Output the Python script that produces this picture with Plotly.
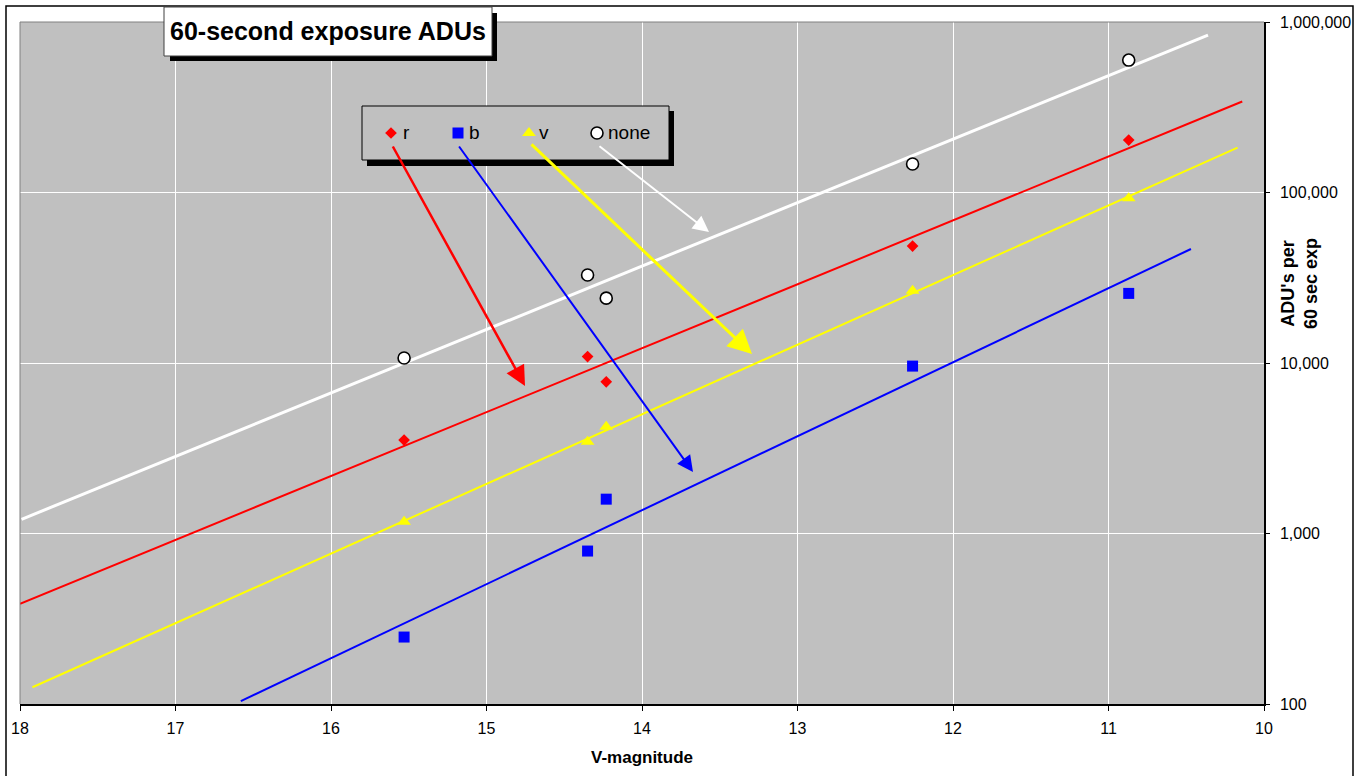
import numpy as np
import plotly.graph_objects as go

# --- measurements: V magnitude of each comparison star and ADUs per 60 s exposure ---
v_mag = [15.53, 14.35, 14.23, 12.26, 10.87]
adu_r = [3530, 10900, 7760, 48500, 203000]
adu_b = [247, 789, 1590, 9590, 25600]
adu_v = [1170, 3450, 4230, 26500, 92500]
adu_none = [10700, 32800, 24000, 147000, 598000]

filter_names = ["r", "b", "v", "none"]
# magnitude span over which each exponential trend line is drawn
trend_from = [18.0, 16.58, 17.92, 17.99]
trend_to = [10.14, 10.47, 10.17, 10.36]

y_tick_values = [100, 1000, 10000, 100000, 1000000]
x_tick_values = [18, 17, 16, 15, 14, 13, 12, 11, 10]

series = dict(zip(filter_names, [adu_r, adu_b, adu_v, adu_none]))

# --- styling ---
FONT = "Arial, Liberation Sans, sans-serif"
PLOT_BG = "#C0C0C0"
colors = {"r": "#FF0000", "b": "#0000FF", "v": "#FFFF00", "none": "#FFFFFF"}
symbols = {"r": "diamond", "b": "square", "v": "triangle-up", "none": "circle"}
msize = {"r": 9, "b": 11, "v": 12, "none": 12}
mline = {"r": 0, "b": 0, "v": 0, "none": 1.6}
trend_width = {"r": 2, "b": 2, "v": 2, "none": 3}

W, H = 1363, 776
L, R, T, B = 20, 99, 22, 72
PW, PH = W - L - R, H - T - B
X_MAX, X_MIN, Y_LO, Y_HI = 18, 10, 2, 6


def px(x):
    return (x - L) / PW


def py(y):
    return (H - B - y) / PH


# pixel position -> axis data values (magnitude, ADU) for shapes on x/y
def mag_at(x):
    return X_MAX - (x - L) / PW * (X_MAX - X_MIN)


def adu_at(y):
    return 10 ** (Y_LO + (H - B - y) / PH * (Y_HI - Y_LO))


fig = go.Figure()

# exponential trend lines (least squares on log10 ADU)
for name, x0, x1 in zip(filter_names, trend_from, trend_to):
    slope, icpt = np.polyfit(v_mag, np.log10(series[name]), 1)
    xs = np.array([x0, x1])
    fig.add_trace(go.Scatter(
        x=xs, y=10 ** (slope * xs + icpt), mode="lines",
        line=dict(color=colors[name], width=trend_width[name]),
        showlegend=False, hoverinfo="skip"))

# measured points
for name in filter_names:
    fig.add_trace(go.Scatter(
        x=v_mag, y=series[name], mode="markers", name=name, showlegend=False,
        marker=dict(symbol=symbols[name], size=msize[name], color=colors[name],
                    line=dict(color="#000000", width=mline[name]))))

# legend keys, placed on a pixel-unit overlay axis pair (x2/y2)
key_x = {"r": 391, "b": 458, "v": 529, "none": 597}
key_y = 133
for name in filter_names:
    fig.add_trace(go.Scatter(
        x=[key_x[name]], y=[key_y], xaxis="x2", yaxis="y2", mode="markers",
        showlegend=False, hoverinfo="skip",
        marker=dict(symbol=symbols[name], size=msize[name], color=colors[name],
                    line=dict(color="#000000", width=mline[name]))))


def box(x0, y0, x1, y1, layer, **kw):
    return dict(type="rect", xref="x", yref="y", layer=layer,
                x0=mag_at(x0), x1=mag_at(x1), y0=adu_at(y1), y1=adu_at(y0), **kw)


shapes = [
    # outer chart frame
    dict(type="rect", xref="paper", yref="paper", x0=px(6), x1=px(1353), y0=py(820), y1=py(6),
         line=dict(color="#000000", width=1.5), fillcolor="rgba(0,0,0,0)", layer="above"),
    # upper and left edges of plot area
    dict(type="line", xref="paper", yref="paper", x0=0, x1=1, y0=1, y1=1,
         line=dict(color="#808080", width=1), layer="above"),
    dict(type="line", xref="paper", yref="paper", x0=0, x1=0, y0=0, y1=1,
         line=dict(color="#808080", width=1), layer="above"),
    # title box with drop shadow
    dict(type="rect", xref="paper", yref="paper", x0=px(170), x1=px(497), y0=py(61), y1=py(13),
         line=dict(width=0), fillcolor="#000000", layer="above"),
    dict(type="rect", xref="paper", yref="paper", x0=px(164), x1=px(492), y0=py(56), y1=py(7),
         line=dict(color="#404040", width=1), fillcolor="#FFFFFF", layer="above"),
    # legend box with drop shadow (over the grid, under the markers)
    box(367, 111, 674, 166, "between", line=dict(width=0), fillcolor="#000000"),
    box(362, 106, 669, 160, "between", line=dict(color="#000000", width=1), fillcolor=PLOT_BG),
]

# arrows from legend keys to trend lines, pixel units: (tail x, tail y, tip x, tip y, width)
arrow_specs = {
    "r": (392, 145, 525, 386, 2.5),
    "b": (458, 145, 693, 472, 2.0),
    "v": (530, 143, 752, 354, 3.0),
    "none": (598, 145, 709, 232, 2.0),
}
annotations = []
for name, (ax, ay, x, y, w) in arrow_specs.items():
    annotations.append(dict(
        x=x, y=y, ax=ax, ay=ay, xref="x2", yref="y2", axref="x2", ayref="y2",
        text="", showarrow=True, arrowhead=2, arrowsize=1.6, arrowwidth=w,
        arrowcolor=colors[name]))

# legend labels
label_x = {"r": 402, "b": 468, "v": 538, "none": 607}
for name in filter_names:
    annotations.append(dict(
        text=name, x=label_x[name], y=key_y - 1, xref="x2", yref="y2",
        xanchor="left", yanchor="middle", showarrow=False, borderpad=0,
        font=dict(family=FONT, size=19, color="#000000")))

annotations += [
    dict(text="<b>60-second exposure ADUs</b>", xref="paper", yref="paper",
         x=px(328), y=py(31.5), xanchor="center", yanchor="middle", showarrow=False,
         font=dict(family=FONT, size=25, color="#000000")),
    dict(text="<b>ADU's per<br>60 sec exp</b>", xref="paper", yref="paper",
         x=px(1299), y=py(284), xanchor="center", yanchor="middle", showarrow=False,
         textangle=-90, font=dict(family=FONT, size=18, color="#000000")),
    dict(text="<b>V-magnitude</b>", xref="paper", yref="paper",
         x=px(642), y=py(757), xanchor="center", yanchor="middle", showarrow=False,
         font=dict(family=FONT, size=17, color="#000000")),
]

fig.update_layout(
    width=W, height=H,
    margin=dict(l=L, r=R, t=T, b=B, pad=0),
    paper_bgcolor="#FFFFFF", plot_bgcolor=PLOT_BG,
    font=dict(family=FONT, size=16, color="#000000"),
    showlegend=False,
    shapes=shapes, annotations=annotations,
    xaxis=dict(range=[X_MAX, X_MIN], tickvals=x_tick_values, ticktext=[str(v) for v in x_tick_values],
               showgrid=True, gridcolor="#FFFFFF", gridwidth=1, zeroline=False,
               showline=True, linecolor="#000000", linewidth=1.5,
               ticks="outside", ticklen=5, tickcolor="#000000", tickwidth=1,
               ticklabelstandoff=4, tickfont=dict(size=16)),
    yaxis=dict(type="log", range=[Y_LO, Y_HI], side="right", tickvals=y_tick_values,
               ticktext=[f"{v:,}" for v in y_tick_values],
               showgrid=True, gridcolor="#FFFFFF", gridwidth=1, zeroline=False,
               showline=True, linecolor="#000000", linewidth=1.5,
               ticks="outside", ticklen=4, tickcolor="#000000", tickwidth=1,
               ticklabelstandoff=7, tickfont=dict(size=16)),
    xaxis2=dict(overlaying="x", range=[L, W - R], visible=False, fixedrange=True),
    yaxis2=dict(overlaying="y", range=[H - B, T], visible=False, fixedrange=True),
)

fig.write_html("out.html")
